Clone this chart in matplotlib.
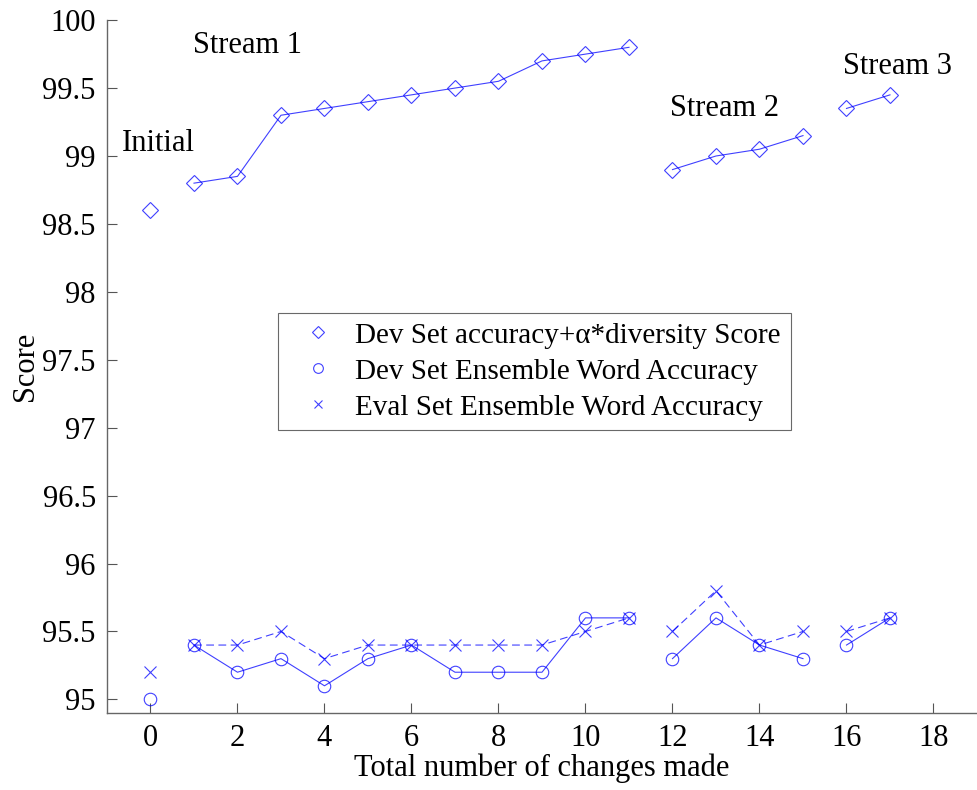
import matplotlib
matplotlib.use("Agg")
import matplotlib.pyplot as plt
import numpy as np

plt.rcParams['font.family'] = ['Liberation Serif', 'DejaVu Serif']

# x positions of each segment (separate runs are not joined)
segments = [[0], list(range(1, 12)), list(range(12, 16)), [16, 17]]

div_score = [[98.6],
             [98.8, 98.85, 99.3, 99.35, 99.4, 99.45, 99.5, 99.55, 99.7, 99.75, 99.8],
             [98.9, 99.0, 99.05, 99.15],
             [99.35, 99.45]]
dev_acc = [[95.0],
           [95.4, 95.2, 95.3, 95.1, 95.3, 95.4, 95.2, 95.2, 95.2, 95.6, 95.6],
           [95.3, 95.6, 95.4, 95.3],
           [95.4, 95.6]]
eval_acc = [[95.2],
            [95.4, 95.4, 95.5, 95.3, 95.4, 95.4, 95.4, 95.4, 95.4, 95.5, 95.6],
            [95.5, 95.8, 95.4, 95.5],
            [95.5, 95.6]]

labels = ['Dev Set accuracy+\u03b1*diversity Score',
          'Dev Set Ensemble Word Accuracy',
          'Eval Set Ensemble Word Accuracy']

annotations = [('Initial', 0.18, 99.09),
               ('Stream 1', 2.23, 99.81),
               ('Stream 2', 13.2, 99.35),
               ('Stream 3', 17.18, 99.66)]

blue = '#0000ff'
fs = 22

fig = plt.figure(figsize=(9.77, 7.90), dpi=100)
ax = fig.add_axes([0.1095, 0.0975, 0.8905, 0.877])

for xs, d, c, e in zip(segments, div_score, dev_acc, eval_acc):
    ax.plot(xs, d, color=blue, lw=0.8, marker='D', ms=8, mfc='none', mew=0.8, alpha=0.75)
    ax.plot(xs, c, color=blue, lw=0.8, marker='o', ms=9, mfc='none', mew=0.8, alpha=0.75)
    ax.plot(xs, e, color=blue, lw=0.8, ls=(0, (7, 4)), marker='x', ms=8, mew=0.8, alpha=0.75)

for txt, x, y in annotations:
    ax.text(x, y, txt, fontsize=fs, ha='center', va='center')

ax.set_xlim(-1, 19)
ax.set_ylim(94.9, 100)
ax.set_xticks(np.arange(0, 19, 2))
ax.set_yticks(np.arange(95, 100.01, 0.5))
ax.set_yticklabels(['95', '95.5', '96', '96.5', '97', '97.5', '98', '98.5', '99', '99.5', '100'])
ax.tick_params(direction='in', length=7, width=0.8, color='#555555', labelsize=fs, pad=8)
ax.spines['top'].set_visible(False)
ax.spines['right'].set_visible(False)
for s in ('left', 'bottom'):
    ax.spines[s].set_color('#666666')
    ax.spines[s].set_linewidth(1.0)

ax.set_xlabel('Total number of changes made', fontsize=fs, labelpad=0)
ax.set_ylabel('Score', fontsize=fs, labelpad=2)

handles = [
    plt.Line2D([], [], ls='none', marker='D', ms=6, mfc='none', color=blue, mew=0.8, alpha=0.75),
    plt.Line2D([], [], ls='none', marker='o', ms=7, mfc='none', color=blue, mew=0.8, alpha=0.75),
    plt.Line2D([], [], ls='none', marker='x', ms=6, color=blue, mew=0.8, alpha=0.75),
]
leg = ax.legend(handles, labels, loc='lower left', bbox_to_anchor=(0.197, 0.408),
                fontsize=21, frameon=True, fancybox=False, handlelength=2.09,
                handletextpad=0.22, labelspacing=0.33, borderpad=0.33, borderaxespad=0)
leg.get_frame().set_edgecolor('#444444')
leg.get_frame().set_linewidth(0.8)

fig.savefig('out.png', dpi=100)
